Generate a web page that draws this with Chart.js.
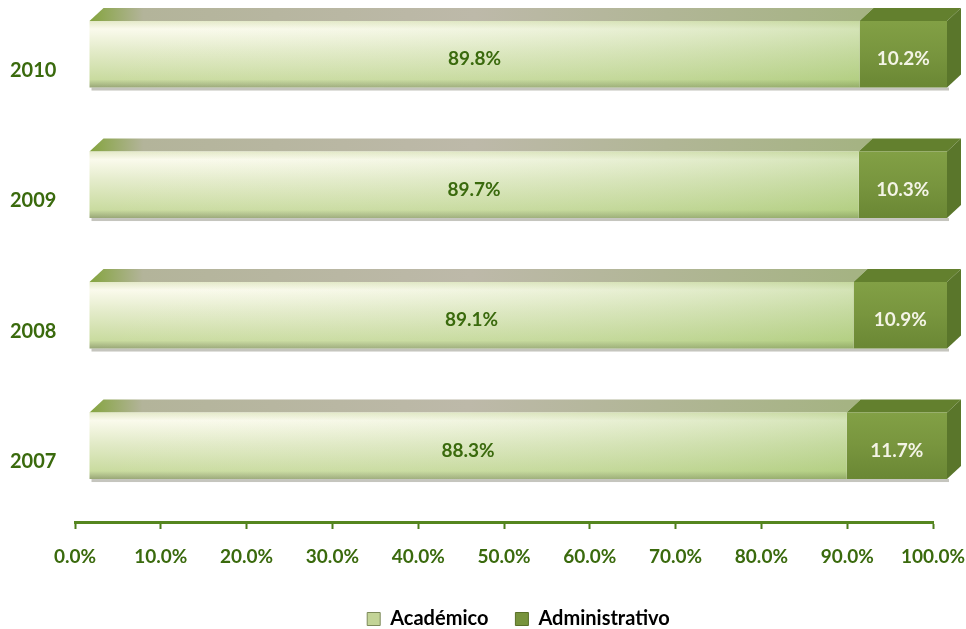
<!DOCTYPE html>
<html lang="es">
<head>
<meta charset="UTF-8">
<title>Académico / Administrativo</title>
<script src="https://cdn.jsdelivr.net/npm/chart.js"></script>
<style>
  body { margin: 0; background: #fff; }
  #chart { display: block; }
</style>
</head>
<body>
<canvas id="chart" width="966" height="629"></canvas>
<script>
const years = ['2010', '2009', '2008', '2007'];
const academico = [89.8, 89.7, 89.1, 88.3];
const administrativo = [10.2, 10.3, 10.9, 11.7];
const seriesNames = ['Académico', 'Administrativo'];

const FONT = 'Lato, "Open Sans", sans-serif';
const GREEN_TEXT = '#3a6a0d';
const SHIFT_X = 14, SHIFT_Y = -11;   // 3D front face offset
const DEPTH_X = 14, DEPTH_Y = 13;    // 3D depth
const BAR_PCT = 0.51;
const AXIS_Y = 522;                  // where the category axis ends
const LEGEND_PAD = 27;
const LEGEND_LIFT = 17;
const LEGEND_SHIFT = 47;

// vertical extent of a bar
function barBand(chart, i) {
  const y = chart.scales.y;
  const cy = y.getPixelForValue(i);
  const step = y.getPixelForValue(1) - y.getPixelForValue(0);
  const h = Math.abs(step) * BAR_PCT;
  return { top: cy - h / 2, bottom: cy + h / 2 };
}

function academicoFill(ctx) {
  const chart = ctx.chart;
  if (!chart.chartArea || ctx.dataIndex === undefined) return '#d9e6b8';
  const b = barBand(chart, ctx.dataIndex);
  const g = chart.ctx.createLinearGradient(0, b.top, 0, b.bottom);
  g.addColorStop(0, '#e4e9c8');
  g.addColorStop(0.12, '#fafaec');
  g.addColorStop(0.45, '#e3ebc9');
  g.addColorStop(0.88, '#c9db9f');
  g.addColorStop(1, '#98a676');
  return g;
}

function administrativoFill(ctx) {
  const chart = ctx.chart;
  if (!chart.chartArea || ctx.dataIndex === undefined) return '#77933c';
  const b = barBand(chart, ctx.dataIndex);
  const g = chart.ctx.createLinearGradient(0, b.top, 0, b.bottom);
  g.addColorStop(0, '#82a045');
  g.addColorStop(0.5, '#78953e');
  g.addColorStop(1, '#6a8734');
  return g;
}

const bar3d = {
  id: 'bar3d',
  afterLayout(chart) {
    // legend sits a little right of the canvas centre
    if (chart.legend) {
      chart.legend.left += LEGEND_SHIFT;
      chart.legend.right += LEGEND_SHIFT;
    }
  },
  beforeDatasetsDraw(chart) {
    const c = chart.ctx;
    c.save();
    c.translate(SHIFT_X, SHIFT_Y);
    const acMeta = chart.getDatasetMeta(0);
    const adMeta = chart.getDatasetMeta(1);
    acMeta.data.forEach((el, i) => {
      const ad = adMeta.data[i];
      const top = el.y - el.height / 2;
      const bottom = el.y + el.height / 2;
      const x0 = el.base, x1 = el.x, x2 = ad.x;
      // shadow under the bar
      c.fillStyle = 'rgba(90,90,70,0.35)';
      c.fillRect(x0 + 2, bottom, x2 - x0, 3);
      // top face académico
      let g = c.createLinearGradient(x0, 0, x1, 0);
      g.addColorStop(0, '#84a43e');
      g.addColorStop(0.07, '#b3b49a');
      g.addColorStop(0.5, '#bdb9a9');
      g.addColorStop(1, '#a5b383');
      c.fillStyle = g;
      c.beginPath();
      c.moveTo(x0, top);
      c.lineTo(x0 + DEPTH_X, top - DEPTH_Y);
      c.lineTo(x1 + DEPTH_X, top - DEPTH_Y);
      c.lineTo(x1, top);
      c.closePath();
      c.fill();
      // top face administrativo
      c.fillStyle = '#63802e';
      c.beginPath();
      c.moveTo(x1, top);
      c.lineTo(x1 + DEPTH_X, top - DEPTH_Y);
      c.lineTo(x2 + DEPTH_X, top - DEPTH_Y);
      c.lineTo(x2, top);
      c.closePath();
      c.fill();
      // side face
      c.fillStyle = '#5a762b';
      c.beginPath();
      c.moveTo(x2, top);
      c.lineTo(x2 + DEPTH_X, top - DEPTH_Y);
      c.lineTo(x2 + DEPTH_X, bottom - DEPTH_Y);
      c.lineTo(x2, bottom);
      c.closePath();
      c.fill();
    });
  },
  afterDatasetsDraw(chart) {
    const c = chart.ctx;
    const acMeta = chart.getDatasetMeta(0);
    const adMeta = chart.getDatasetMeta(1);
    // greener tint toward the right of the académico segment
    acMeta.data.forEach((el) => {
      const top = el.y - el.height / 2;
      const g = c.createLinearGradient(el.base, 0, el.x, 0);
      g.addColorStop(0, 'rgba(255,255,255,0)');
      g.addColorStop(1, 'rgba(140,185,80,0.35)');
      c.fillStyle = g;
      c.fillRect(el.base, top, el.x - el.base, el.height);
    });
    c.font = 'bold 19px ' + FONT;
    c.textAlign = 'center';
    c.textBaseline = 'middle';
    [[acMeta, academico, GREEN_TEXT], [adMeta, administrativo, '#f4f4e6']].forEach(([meta, vals, col]) => {
      c.fillStyle = col;
      meta.data.forEach((el, i) => {
        c.fillText(vals[i].toFixed(1) + '%', (el.x + el.base) / 2, el.y + 5);
      });
    });
    c.restore();
  }
};

new Chart(document.getElementById('chart'), {
  type: 'bar',
  data: {
    labels: years,
    datasets: [
      { label: seriesNames[0], data: academico, backgroundColor: academicoFill, borderWidth: 0, clip: false },
      { label: seriesNames[1], data: administrativo, backgroundColor: administrativoFill, borderWidth: 0, clip: false }
    ]
  },
  options: {
    indexAxis: 'y',
    responsive: false,
    animation: false,
    barPercentage: BAR_PCT,
    categoryPercentage: 1,
    layout: { padding: { top: 0, right: 33, bottom: -LEGEND_PAD + LEGEND_LIFT, left: 10 } },
    scales: {
      x: {
        stacked: true,
        min: 0,
        max: 100,
        ticks: {
          stepSize: 10,
          padding: 16,
          color: GREEN_TEXT,
          font: { family: FONT, size: 19, weight: 'bold' },
          maxRotation: 0,
          callback: (v) => v.toFixed(1) + '%'
        },
        grid: { drawOnChartArea: false, drawTicks: true, tickLength: 7, tickWidth: 2, tickColor: '#4d7d1a' },
        border: { display: true, color: '#55861f', width: 3 },
        afterFit: (s) => {
          const lg = s.chart.legend ? s.chart.legend.height : 60;
          s.height = 629 + LEGEND_PAD - LEGEND_LIFT - AXIS_Y - lg;
          s.paddingLeft = 0;
          s.paddingRight = 0;
        }
      },
      y: {
        stacked: true,
        ticks: {
          color: GREEN_TEXT,
          font: { family: FONT, size: 20, weight: 'bold' },
          labelOffset: 5,
          crossAlign: 'far',
          padding: 0
        },
        grid: { display: false },
        border: { display: false },
        afterFit: (s) => {
          s.width = 65;
          s.paddingTop = 0;
          s.paddingBottom = 0;
        }
      }
    },
    plugins: {
      legend: {
        position: 'bottom',
        labels: {
          color: GREEN_TEXT,
          font: { family: FONT, size: 20, weight: 'bold' },
          boxWidth: 13,
          boxHeight: 13,
          padding: LEGEND_PAD,
          generateLabels: () => [
            { text: seriesNames[0], fillStyle: '#c3d497', strokeStyle: '#7d8a5a', lineWidth: 1, datasetIndex: 0 },
            { text: seriesNames[1], fillStyle: '#77933c', strokeStyle: '#5a7028', lineWidth: 1, datasetIndex: 1 }
          ]
        }
      },
      tooltip: { enabled: false }
    }
  },
  plugins: [bar3d]
});
</script>
</body>
</html>
